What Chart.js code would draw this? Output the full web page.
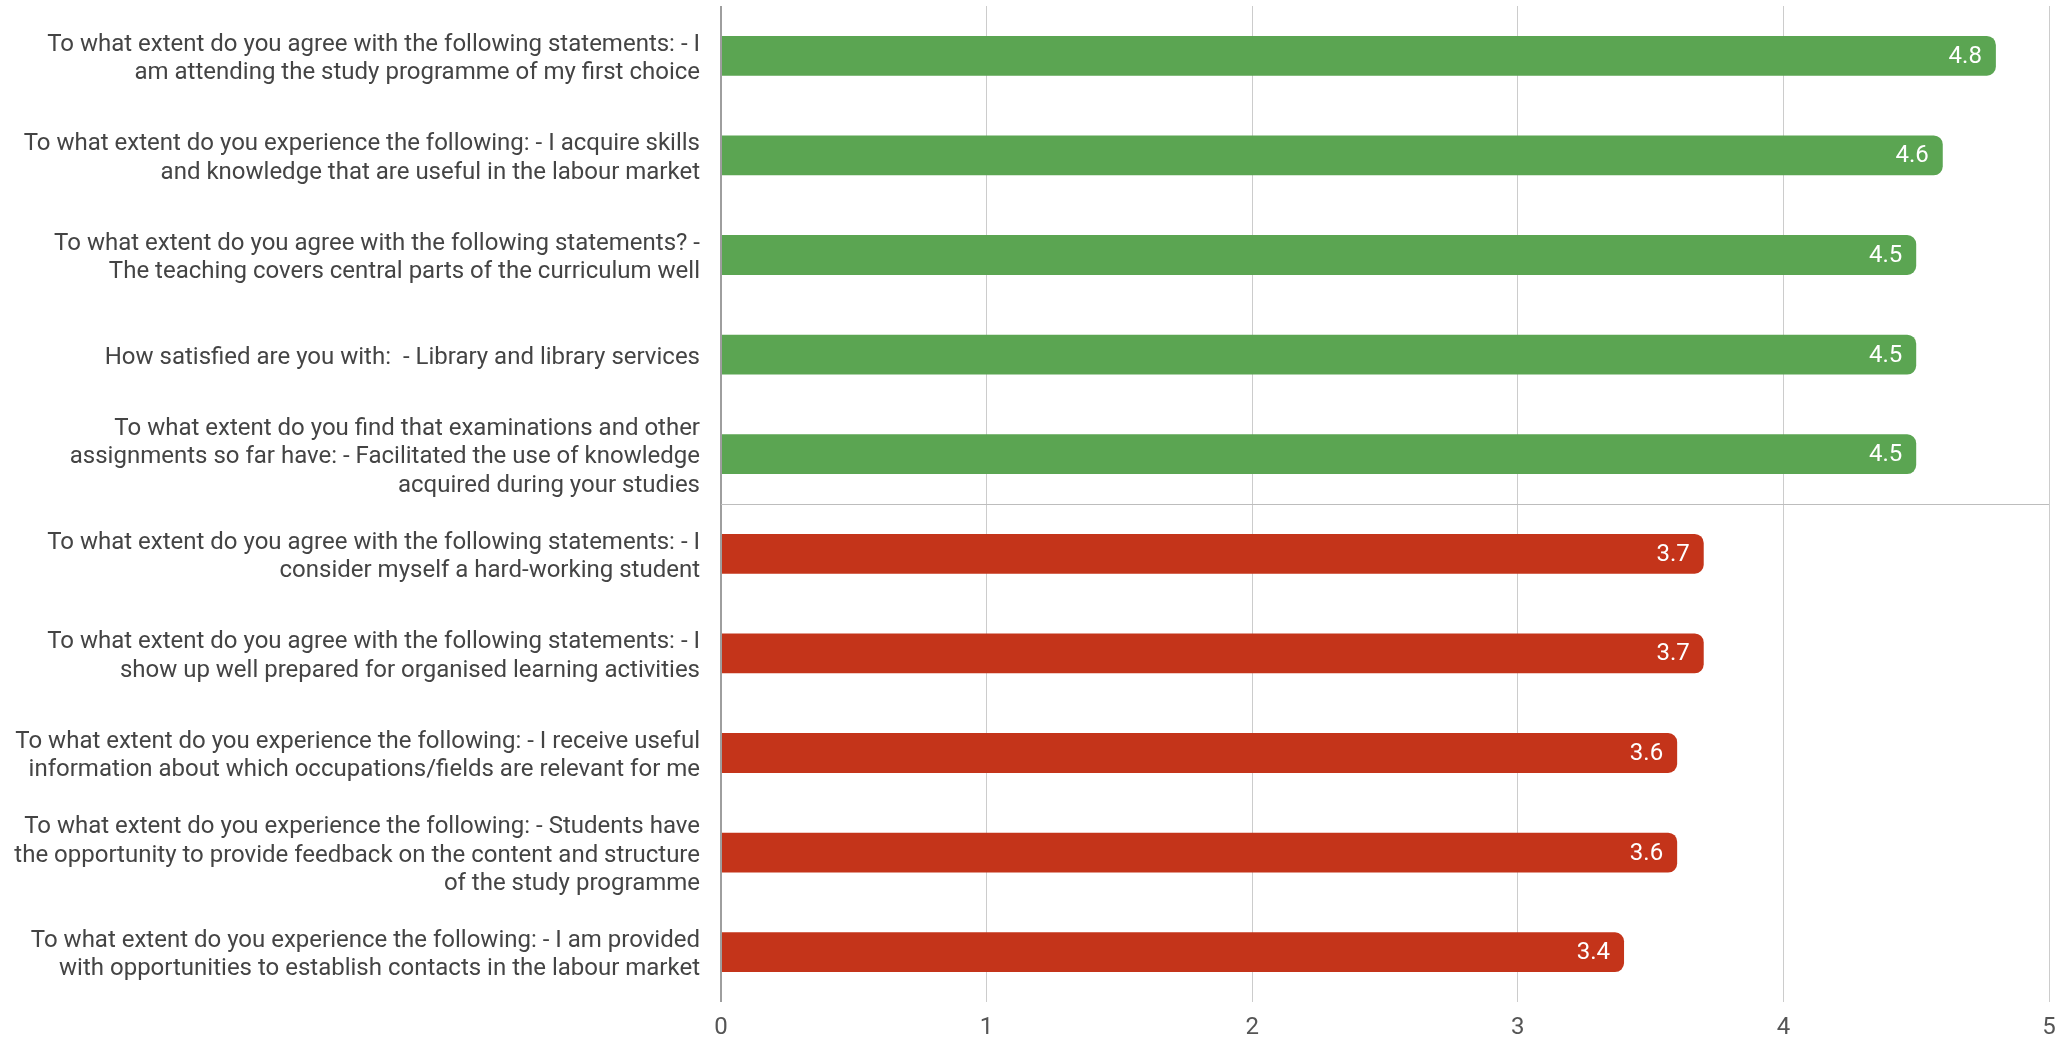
<!DOCTYPE html>
<html>
<head>
<meta charset="utf-8">
<script src="https://cdn.jsdelivr.net/npm/chart.js@4"></script>
<style>
  html, body { margin: 0; padding: 0; background: #fff; }
  #wrap { width: 2067px; height: 1038px; position: relative; }
</style>
</head>
<body>
<div id="wrap"><canvas id="chart"></canvas></div>
<script>
// Survey statements (multi-line labels as shown)
const statements = [
  ['To what extent do you agree with the following statements: - I', 'am attending the study programme of my first choice'],
  ['To what extent do you experience the following: - I acquire skills', 'and knowledge that are useful in the labour market'],
  ['To what extent do you agree with the following statements? -', 'The teaching covers central parts of the curriculum well'],
  ['How satisfied are you with:  - Library and library services'],
  ['To what extent do you find that examinations and other', 'assignments so far have: - Facilitated the use of knowledge', 'acquired during your studies'],
  ['To what extent do you agree with the following statements: - I', 'consider myself a hard-working student'],
  ['To what extent do you agree with the following statements: - I', 'show up well prepared for organised learning activities'],
  ['To what extent do you experience the following: - I receive useful', 'information about which occupations/fields are relevant for me'],
  ['To what extent do you experience the following: - Students have', 'the opportunity to provide feedback on the content and structure', 'of the study programme'],
  ['To what extent do you experience the following: - I am provided', 'with opportunities to establish contacts in the labour market']
];
const scores = [4.8, 4.6, 4.5, 4.5, 4.5, 3.7, 3.7, 3.6, 3.6, 3.4];
// top five are highest rated, bottom five lowest
const group = ['top', 'top', 'top', 'top', 'top', 'low', 'low', 'low', 'low', 'low'];
const xTicks = [0, 1, 2, 3, 4, 5];

const GREEN = '#5ba552';
const RED = '#c4341a';

// draws the value inside the end of each bar
const valueLabels = {
  id: 'valueLabels',
  afterDatasetsDraw(chart) {
    const ctx = chart.ctx;
    const meta = chart.getDatasetMeta(0);
    ctx.save();
    ctx.font = '24px Roboto';
    ctx.fillStyle = '#ffffff';
    ctx.textAlign = 'right';
    ctx.textBaseline = 'middle';
    meta.data.forEach((bar, i) => {
      ctx.fillText(scores[i].toFixed(1), bar.x - 14, bar.y + 1);
    });
    ctx.restore();
  }
};

const ctx = document.getElementById('chart').getContext('2d');
new Chart(ctx, {
  type: 'bar',
  data: {
    labels: statements,
    datasets: [{
      data: scores,
      backgroundColor: group.map(g => g === 'top' ? GREEN : RED),
      borderRadius: 9,
      borderSkipped: 'start',
      barPercentage: 0.4,
      categoryPercentage: 1.0
    }]
  },
  options: {
    indexAxis: 'y',
    responsive: true,
    maintainAspectRatio: false,
    animation: false,
    layout: { padding: { top: 6, right: 18, bottom: 0, left: 0 } },
    plugins: {
      legend: { display: false },
      tooltip: { enabled: false }
    },
    scales: {
      x: {
        min: 0,
        max: 5,
        afterBuildTicks: s => { s.ticks = xTicks.map(v => ({ value: v })); },
        afterFit: s => { s.height = 36; s.paddingLeft = 0; s.paddingRight = 0; },
        border: { display: false },
        grid: {
          drawTicks: false,
          color: c => c.index === 0 ? '#9e9e9e' : '#cccccc',
          lineWidth: c => c.index === 0 ? 2 : 1
        },
        ticks: {
          color: '#555555',
          font: { family: 'Roboto', size: 24 },
          padding: 12
        }
      },
      y: {
        afterFit: s => { s.width = 721; s.paddingTop = 0; s.paddingBottom = 0; },
        border: { display: false },
        grid: {
          drawTicks: false,
          // only the line separating the two groups
          color: c => c.index === 5 ? '#bdbdbd' : 'rgba(0,0,0,0)',
          lineWidth: 1
        },
        ticks: {
          color: '#444444',
          font: { family: 'Roboto', size: 24, lineHeight: 1.18 },
          padding: 21,
          labelOffset: 3,
          autoSkip: false
        }
      }
    }
  },
  plugins: [valueLabels]
});
</script>
</body>
</html>
